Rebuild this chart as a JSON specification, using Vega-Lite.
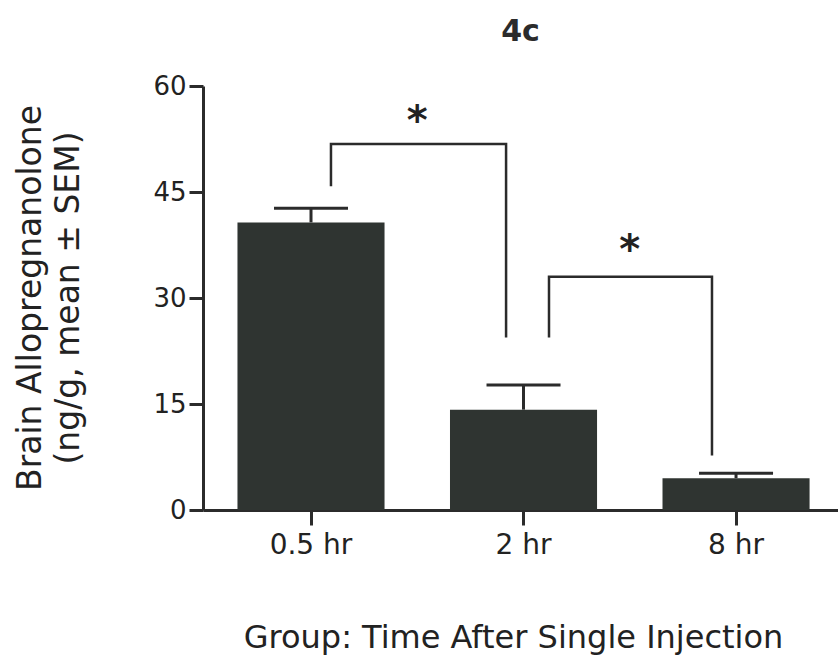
{
  "$schema": "https://vega.github.io/schema/vega-lite/v6.json",
  "autosize": {"type": "none"},
  "padding": {"left": 203, "top": 86, "right": 0, "bottom": 151},
  "width": 635,
  "height": 424,
  "background": "white",
  "title": {"text": "4c", "fontSize": 30, "fontWeight": "bold", "font": "DejaVu Sans", "color": "#2b2b2b", "anchor": "middle", "baseline": "alphabetic", "frame": "group", "offset": 2},
  "config": {"view": {"stroke": null}, "font": "DejaVu Sans"},
  "datasets": {
    "bars": [
      {"group": "0.5 hr", "mean": 40.7, "upper": 42.7},
      {"group": "2 hr", "mean": 14.2, "upper": 17.7},
      {"group": "8 hr", "mean": 4.5, "upper": 5.2}
    ],
    "brackets": [
      {"bracket": "a", "ord": 1, "pos": 1.094, "val": 45.8},
      {"bracket": "a", "ord": 2, "pos": 1.094, "val": 51.8},
      {"bracket": "a", "ord": 3, "pos": 1.918, "val": 51.8},
      {"bracket": "a", "ord": 4, "pos": 1.918, "val": 24.4},
      {"bracket": "b", "ord": 1, "pos": 2.12, "val": 24.4},
      {"bracket": "b", "ord": 2, "pos": 2.12, "val": 33.0},
      {"bracket": "b", "ord": 3, "pos": 2.887, "val": 33.0},
      {"bracket": "b", "ord": 4, "pos": 2.887, "val": 7.7}
    ],
    "stars": [
      {"pos": 1.5, "val": 53.2, "label": "*"},
      {"pos": 2.5, "val": 34.95, "label": "*"}
    ]
  },
  "layer": [
    {
      "data": {"name": "bars"},
      "layer": [
        {
          "mark": {"type": "bar", "color": "#2f3431"},
          "encoding": {
            "x": {
              "field": "group", "type": "nominal", "sort": null,
              "scale": {"paddingInner": 0.308, "paddingOuter": 0.148, "align": 0.548},
              "axis": {
                "labelAngle": 0, "labelFontSize": 28, "labelColor": "#222222",
                "labelBaseline": "alphabetic", "labelPadding": 28,
                "tickSize": 15, "tickWidth": 3, "tickColor": "#2b2b2b",
                "domainWidth": 3, "domainColor": "#2b2b2b",
                "title": "Group: Time After Single Injection",
                "titleFontSize": 32, "titleFontWeight": "normal", "titleColor": "#222222",
                "titleX": 310, "titleY": 137, "titleBaseline": "alphabetic", "titleAlign": "center", "titleAnchor": null
              }
            },
            "y": {
              "field": "mean", "type": "quantitative",
              "scale": {"domain": [0, 60], "nice": false},
              "axis": {
                "values": [0, 15, 30, 45, 60], "grid": false,
                "labelFontSize": 26, "labelColor": "#222222", "labelPadding": 3,
                "tickSize": 14, "tickWidth": 3, "tickColor": "#2b2b2b",
                "domainWidth": 3, "domainColor": "#2b2b2b",
                "title": ["Brain Allopregnanolone", "(ng/g, mean ± SEM)"],
                "titleFontSize": 33, "titleFontWeight": "normal", "titleColor": "#222222",
                "titleAngle": -90, "titleX": -163, "titleY": 211.5,
                "titleBaseline": "alphabetic", "titleAlign": "center", "titleLineHeight": 38
              }
            }
          }
        },
        {
          "mark": {"type": "rule", "color": "#2b2b2b", "strokeWidth": 3},
          "encoding": {
            "x": {"field": "group", "type": "nominal", "sort": null},
            "y": {"field": "mean", "type": "quantitative"},
            "y2": {"field": "upper"}
          }
        },
        {
          "mark": {"type": "tick", "color": "#2b2b2b", "opacity": 1, "orient": "horizontal", "size": 74, "thickness": 3},
          "encoding": {
            "x": {"field": "group", "type": "nominal", "sort": null},
            "y": {"field": "upper", "type": "quantitative"}
          }
        }
      ]
    },
    {
      "data": {"name": "brackets"},
      "mark": {"type": "line", "color": "#2b2b2b", "strokeWidth": 2.5, "strokeJoin": "miter", "strokeCap": "butt"},
      "encoding": {
        "x": {"field": "pos", "type": "quantitative", "scale": {"domain": [0.4918, 3.48], "nice": false, "zero": false}, "axis": null},
        "y": {"field": "val", "type": "quantitative"},
        "detail": {"field": "bracket"},
        "order": {"field": "ord"}
      }
    },
    {
      "data": {"name": "stars"},
      "mark": {"type": "text", "color": "#222222", "fontSize": 40, "fontWeight": "bold", "baseline": "alphabetic", "align": "center"},
      "encoding": {
        "x": {"field": "pos", "type": "quantitative", "scale": {"domain": [0.4918, 3.48], "nice": false, "zero": false}, "axis": null},
        "y": {"field": "val", "type": "quantitative"},
        "text": {"field": "label"}
      }
    }
  ],
  "resolve": {"scale": {"x": "independent"}, "axis": {"x": "independent"}}
}
